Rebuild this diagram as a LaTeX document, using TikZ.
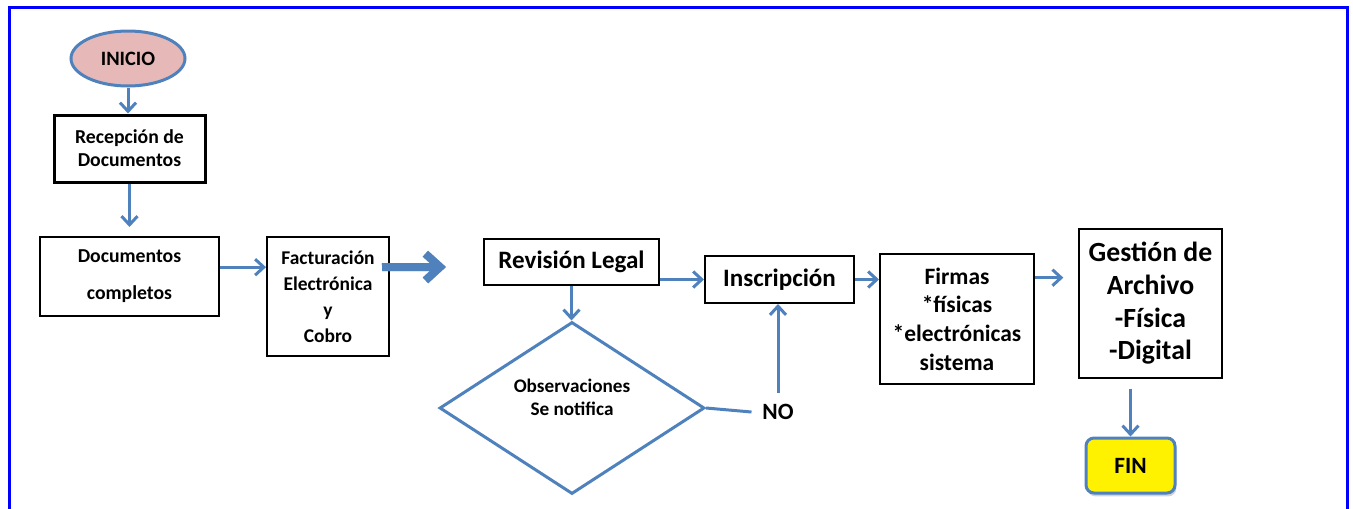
\documentclass[tikz,border=0pt]{standalone}
\usepackage{fontspec}
\setmainfont{Carlito}
\usetikzlibrary{arrows.meta,shapes.geometric,shadows}
\definecolor{flowblue}{HTML}{4F81BD}
\definecolor{startpink}{HTML}{E6B9B8}

\begin{document}
\begin{tikzpicture}[x=0.75pt,y=-0.75pt,
  flow/.style={draw=flowblue,line width=2.25pt,-{Straight Barb[length=6.5pt,width=12pt]}},
  bigflow/.style={line width=6pt,-{Straight Barb[length=11pt,width=20pt]}},
  box/.style={draw,line width=1.5pt,align=center,inner sep=0pt},
  small/.style={font=\bfseries\fontsize{14.8}{17.25}\selectfont},
  big/.style={font=\bfseries\fontsize{18.8}{21.5}\selectfont}]
\useasboundingbox (0,0) rectangle (1353,508);
% frame
\scope[draw=blue,line width=2.25pt]
\draw (9,520) -- (9,7) -- (1347,7) -- (1347,520);
\endscope
% left column
\node[ellipse,draw=flowblue,fill=startpink,line width=2.25pt,minimum width=85.5pt,
      minimum height=41.25pt,font=\bfseries\fontsize{15.3}{17}\selectfont] (inicio) at (128,58.5) {INICIO};
\node[box,small,line width=2.25pt,minimum width=113.25pt,minimum height=50.25pt] (rec) at (129.5,148.5) {Recepción de\\Documentos};
\node[box,small,minimum width=134.25pt,minimum height=59.25pt] (doc) at (129.5,276.5) {Documentos\\[10.5pt]completos};
\node[box,font=\bfseries\fontsize{14.6}{19.5}\selectfont,minimum width=91.5pt,minimum height=89.25pt] (fac) at (328,296.5) {Facturación\\Electrónica\\y\\Cobro};
% middle
\node[box,big,minimum width=131.25pt,minimum height=34.5pt] (rev) at (571.5,262) {Revisión Legal};
\node[box,big,minimum width=111.75pt,minimum height=35.25pt] (ins) at (779.5,279.5) {Inscripción};
\node[diamond,draw=flowblue,line width=2.25pt,minimum width=198.75pt,minimum height=129pt,inner sep=0pt] (obs) at (572,408) {};
\node[font=\bfseries\fontsize{14.4}{17.25}\selectfont,align=center] (obstxt) at (572,397.5) {Observaciones\\Se notifica};
\node[font=\bfseries\fontsize{17.5}{20}\selectfont,inner sep=8pt] (no) at (778,412) {NO};
% right
\node[box,font=\bfseries\fontsize{17.6}{21.5}\selectfont,minimum width=115.5pt,minimum height=97.5pt] (firm) at (957,319) {Firmas\\*físicas\\*electrónicas\\sistema};
\node[box,font=\bfseries\fontsize{20.8}{24.5}\selectfont,minimum width=107.25pt,minimum height=111.75pt] (ges) at (1150.5,303.5) {Gestión de\\Archivo\\-Física\\-Digital};
\node[draw=flowblue,fill=yellow,line width=2.25pt,rounded corners=6pt,minimum width=66.75pt,minimum height=41.25pt,
      font=\bfseries\fontsize{17.5}{20}\selectfont,drop shadow={opacity=0.35,shadow xshift=1pt,shadow yshift=-2.5pt}] (fin) at (1130.5,465.5) {FIN};
\coordinate (hand) at (446,267);
% arrows
\draw[flow] (inicio) -- (inicio |- rec.north);
\draw[flow,shorten >=6.75pt] (rec) -- (rec |- doc.north);
\draw[flow] ([yshift=7pt]doc.east) -- ([yshift=7pt]doc.east -| fac.west);
\draw[bigflow,draw=gray!60,shift={(2,3)}] ([shift={(-6pt,22pt)}]fac.east) -- (hand);
\draw[bigflow,draw=flowblue] ([shift={(-6pt,22pt)}]fac.east) -- (hand);
\draw[flow] (rev) -- (rev |- obs.north);
\draw[flow] (rev.east |- ins.west) -- (ins.west);
\draw[draw=flowblue,line width=2.25pt] (obs.east) -- (no.west);
\draw[flow] (no) -- (no |- ins.south);
\draw[flow] (ins.east) -- (ins.east -| firm.west);
\draw[flow,shorten >=11pt] ([yshift=31pt]firm.east) -- ([yshift=31pt]firm.east -| ges.west);
\draw[flow,shorten <=7.5pt] (ges.south -| fin.north) -- (fin.north);
\end{tikzpicture}
\end{document}
